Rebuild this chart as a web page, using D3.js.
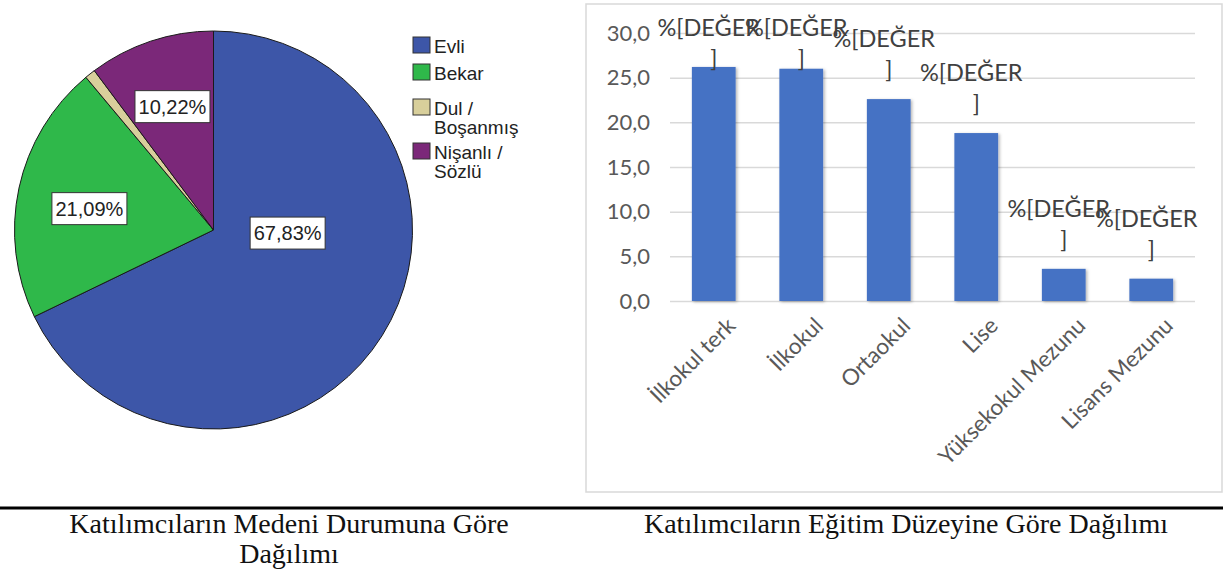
<!DOCTYPE html>
<html>
<head>
<meta charset="utf-8">
<script src="https://cdn.jsdelivr.net/npm/d3@7"></script>
<style>
  body { margin: 0; background: #fff; }
  svg { display: block; }
</style>
</head>
<body>
<div id="chart_container"></div>
<script>
// marital status (pie)
var pieLabels = ["Evli", "Bekar", "Dul / Boşanmış", "Nişanlı / Sözlü"];
var pieValues = [67.83, 21.09, 0.86, 10.22];
var pieColors = ["#3d56a8", "#2fb84a", "#d8cf9b", "#7b2879"];

// education level (bars)
var eduCategories = ["İlkokul terk", "İlkokul", "Ortaokul", "Lise", "Yüksekokul Mezunu", "Lisans Mezunu"];
var eduValues = [26.2, 26.0, 22.6, 18.8, 3.6, 2.5];
var yTicks = [0, 5, 10, 15, 20, 25, 30];

var captions = [
    ["Katılımcıların Medeni Durumuna Göre", "Dağılımı"],
    ["Katılımcıların Eğitim Düzeyine Göre Dağılımı"]
];

var svg = d3.select("#chart_container").append("svg")
    .attr("width", 1223)
    .attr("height", 577);

var defs = svg.append("defs");
defs.append("filter")
    .attr("id", "shadow")
    .attr("x", "-20%").attr("y", "-20%")
    .attr("width", "150%").attr("height", "150%")
    .append("feDropShadow")
    .attr("dx", 1.5).attr("dy", 1)
    .attr("stdDeviation", 1.5)
    .attr("flood-color", "#000")
    .attr("flood-opacity", 0.3);

// ---------- pie ----------
var pieG = svg.append("g")
    .attr("transform", "translate(213.5,230)");

var radius = 199;
var pie = d3.pie().sort(null).value(function(d) { return d; });
var arc = d3.arc().innerRadius(0).outerRadius(radius);
var labelArc = d3.arc().innerRadius(130).outerRadius(130);
var labelShift = [[-36, -66], [3, 6], [0, 0], [0, 0]];

var slices = pie(pieValues);

pieG.selectAll("path")
    .data(slices)
    .enter().append("path")
    .attr("d", arc)
    .attr("fill", function(d, i) { return pieColors[i]; })
    .attr("stroke", "#1a1a1a")
    .attr("stroke-width", 1);

var pieLab = pieG.selectAll("g.plab")
    .data(slices.filter(function(d) { return d.value > 5; }))
    .enter().append("g")
    .attr("class", "plab")
    .attr("transform", function(d) {
        var c = labelArc.centroid(d);
        var s = labelShift[d.index];
        return "translate(" + (c[0] + s[0]) + "," + (c[1] + s[1]) + ")";
    });

pieLab.append("rect")
    .attr("x", -37.5).attr("y", -16)
    .attr("width", 75).attr("height", 32)
    .attr("fill", "#fff")
    .attr("stroke", "#333")
    .attr("stroke-width", 1);

pieLab.append("text")
    .attr("text-anchor", "middle")
    .attr("dy", "0.36em")
    .attr("font-family", "Liberation Sans, Arial, sans-serif")
    .attr("font-size", 20)
    .attr("fill", "#222")
    .text(function(d) { return d3.format(".2f")(d.value).replace(".", ",") + "%"; });

// legend
var legendY = [37, 64, 99, 143];
var legend = svg.append("g").selectAll("g")
    .data(pieLabels)
    .enter().append("g")
    .attr("transform", function(d, i) { return "translate(413," + legendY[i] + ")"; });

legend.append("rect")
    .attr("width", 17).attr("height", 16)
    .attr("fill", function(d, i) { return pieColors[i]; })
    .attr("stroke", "#333")
    .attr("stroke-width", 1);

legend.selectAll("text")
    .data(function(d) {
        var parts = d.split(" / ");
        return parts.length > 1 ? [parts[0] + " /", parts[1]] : parts;
    })
    .enter().append("text")
    .attr("font-family", "Liberation Sans, Arial, sans-serif")
    .attr("font-size", 19)
    .attr("fill", "#222")
    .attr("x", 21)
    .attr("y", function(d, i) { return 16 + i * 19; })
    .text(function(d) { return d; });

// ---------- bar chart ----------
svg.append("rect")
    .attr("x", 586).attr("y", 4)
    .attr("width", 636).attr("height", 488)
    .attr("fill", "none")
    .attr("stroke", "#d9d9d9")
    .attr("stroke-width", 1.5);

var x = d3.scaleBand()
    .domain(eduCategories)
    .range([670, 1195])
    .paddingInner(0.5)
    .paddingOuter(0.25);

var y = d3.scaleLinear()
    .domain([0, 30])
    .range([301, 33]);

var fmt = function(v) { return d3.format(".1f")(v).replace(".", ","); };

var yAxis = svg.append("g")
    .attr("transform", "translate(670,0)")
    .call(d3.axisLeft(y).tickValues(yTicks).tickSize(-525).tickFormat(fmt).tickPadding(20));

yAxis.select(".domain").remove();
yAxis.selectAll(".tick line")
    .attr("stroke", "#d9d9d9")
    .attr("stroke-width", 1.5);
yAxis.selectAll(".tick text")
    .attr("font-family", "Lato, sans-serif")
    .attr("font-size", 22)
    .attr("fill", "#595959");

svg.append("g").selectAll("rect")
    .data(eduValues)
    .enter().append("rect")
    .attr("x", function(d, i) { return x(eduCategories[i]); })
    .attr("y", function(d) { return y(d); })
    .attr("width", x.bandwidth())
    .attr("height", function(d) { return y(0) - y(d); })
    .attr("fill", "#4472c4")
    .attr("filter", "url(#shadow)");

// x labels, rotated
svg.append("g").selectAll("text")
    .data(eduCategories)
    .enter().append("text")
    .attr("transform", function(d) {
        return "translate(" + (x(d) + x.bandwidth() / 2 + 12) + ",316) rotate(-45)";
    })
    .attr("text-anchor", "end")
    .attr("dy", "0.7em")
    .attr("font-family", "Lato, sans-serif")
    .attr("font-size", 22.5)
    .attr("fill", "#595959")
    .text(function(d) { return d; });

// data labels (unresolved field code, wrapped)
var dataLab = svg.append("g").selectAll("text")
    .data(eduValues)
    .enter().append("text")
    .attr("text-anchor", "middle")
    .attr("font-family", "Lato, sans-serif")
    .attr("font-size", 23.5)
    .attr("fill", "#404040");

dataLab.selectAll("tspan")
    .data(function(d, i) {
        var top = Math.max(y(d) - 52, 36);
        var cx = x(eduCategories[i]) + x.bandwidth() / 2;
        return [
            { t: "%[DEĞER", x: cx - 5, y: top },
            { t: "]", x: cx, y: top + 31 }
        ];
    })
    .enter().append("tspan")
    .attr("x", function(d) { return d.x; })
    .attr("y", function(d) { return d.y; })
    .text(function(d) { return d.t; });

// ---------- bottom rule and captions ----------
svg.append("line")
    .attr("x1", 0).attr("x2", 1223)
    .attr("y1", 508).attr("y2", 508)
    .attr("stroke", "#000")
    .attr("stroke-width", 3);

var captionX = [289, 906];
svg.append("g").selectAll("text")
    .data(captions)
    .enter().append("text")
    .attr("text-anchor", "middle")
    .attr("font-family", "Liberation Serif, serif")
    .attr("font-size", 28)
    .attr("fill", "#111")
    .selectAll("tspan")
    .data(function(d, i) { return d.map(function(t) { return { t: t, cx: captionX[i] }; }); })
    .enter().append("tspan")
    .attr("x", function(d) { return d.cx; })
    .attr("y", function(d, i) { return 533 + i * 30; })
    .text(function(d) { return d.t; });
</script>
</body>
</html>
